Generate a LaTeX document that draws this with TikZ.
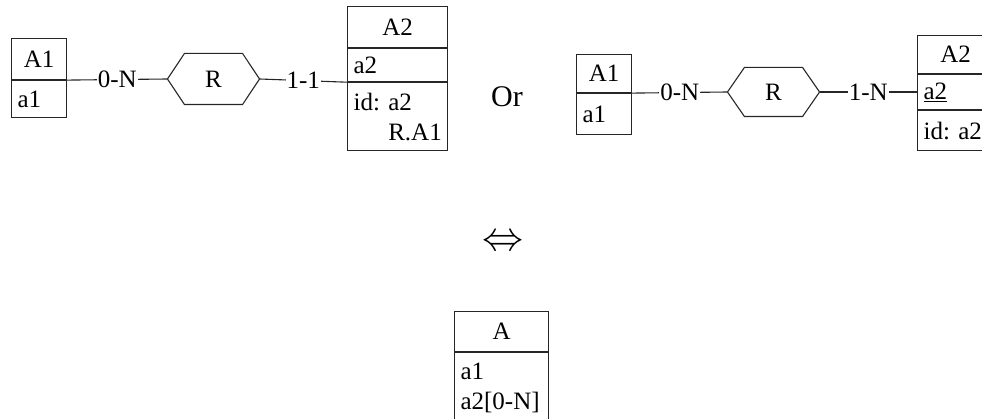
\documentclass[tikz,border=0pt]{standalone}
\usepackage{fontspec}
\setmainfont{Liberation Serif}
\usetikzlibrary{positioning}

\tikzset{
  ertext/.style={font=\fontsize{25}{30}\selectfont},
  enthead/.style 2 args={ertext,draw,anchor=north west,inner sep=0pt,minimum width=#1,minimum height=#2},
  entattr/.style 2 args={ertext,draw,anchor=north west,inner xsep=6pt,inner ysep=0pt,align=left,text width=#1,minimum height=#2},
  rel/.style={ertext,inner sep=0pt,minimum width=91pt,minimum height=50pt},
  card/.style={ertext,fill=white,inner sep=1pt},
}
\newcommand{\relhex}[1]{\draw (#1.west) -- ([xshift=17pt]#1.north west) -- ([xshift=-17pt]#1.north east) -- (#1.east) -- ([xshift=-17pt]#1.south east) -- ([xshift=17pt]#1.south west) -- cycle;}

\begin{document}
\begin{tikzpicture}[x=1pt,y=-1pt,line width=1.1pt,draw=black!85]
		\useasboundingbox (0,0) rectangle (982,419);
		% first schema
		\node[enthead={55pt}{41pt}] (A1l) at (11,38) {A1};
		\node[entattr={43pt}{37pt}] (A1la) at (A1l.south west) {a1};
		\node[rel] (Rl) at (213.5,79) {R};
		\relhex{Rl}
		\node[enthead={100pt}{41pt}] (A2l) at (347,6) {A2};
		\node[entattr={88pt}{33pt}] (A2la) at (A2l.south west) {a2};
		\node[entattr={88pt}{68pt}] (A2lid) at (A2la.south west) {id:\ a2\\\phantom{id:\ }R.A1};
		\draw (A1l.south east) -- node[card] {0-N} (Rl.west);
		\draw (Rl.east) -- node[card] {1-1} (A2lid.north west);
		\node[font=\fontsize{30}{36}\selectfont] (or) at (507,97) {Or};
		% second schema
		\node[enthead={55pt}{38pt}] (A1r) at (576,54) {A1};
		\node[entattr={43pt}{41pt}] (A1ra) at (A1r.south west) {a1};
		\node[rel,minimum height=48pt] (Rr) at (773.5,92) {R};
		\relhex{Rr}
		\node[enthead={76pt}{38pt}] (A2r) at (917,35) {A2};
		\node[entattr={64pt}{35pt}] (A2ra) at (A2r.south west) {\underline{a2}};
		\node[entattr={64pt}{40pt}] (A2rid) at (A2ra.south west) {id:\ a2};
		\draw (A1r.south east) -- node[card] {0-N} (Rr.west);
		\draw (Rr.east) -- node[card] {1-N} (Rr.east -| A2ra.west);
		% equivalent
		\node[font=\fontsize{24.88}{30}\selectfont,scale=1.65] (eq) at (503,243) {$\Leftrightarrow$};
		\node[enthead={94pt}{40pt}] (A) at (454,311) {A};
		\node[entattr={82pt}{70pt}] (Aa) at (A.south west) {a1\\a2[0-N]};
	\end{tikzpicture}
\end{document}
